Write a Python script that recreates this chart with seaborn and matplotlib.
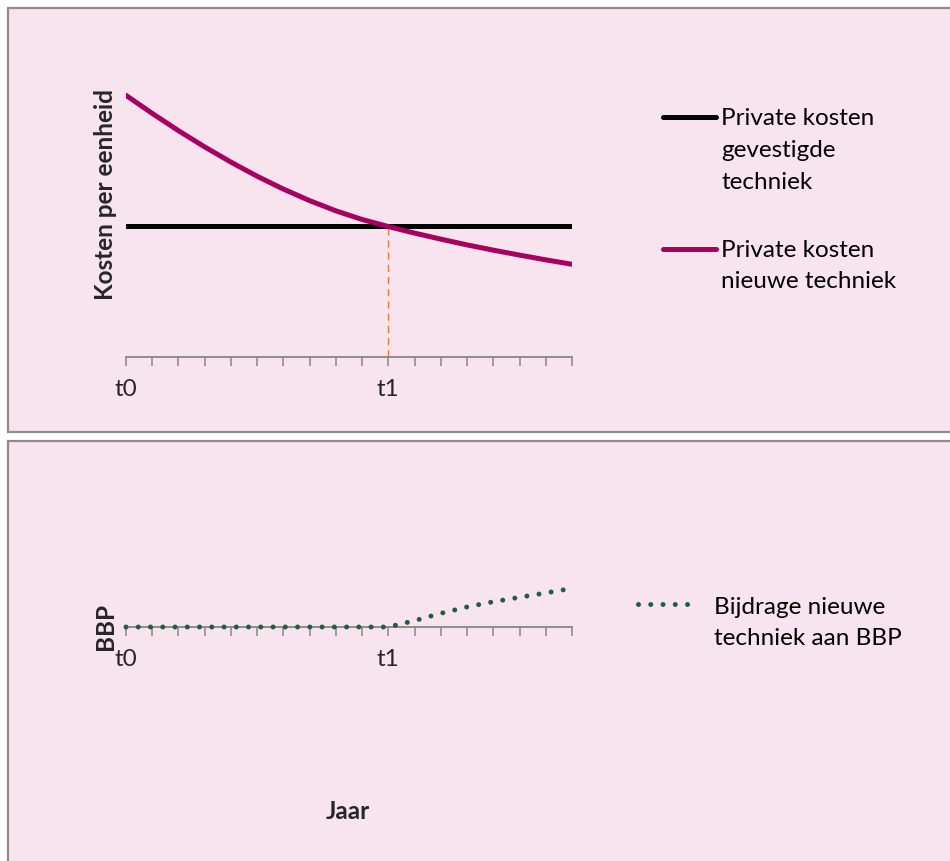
import numpy as np
import pandas as pd
import matplotlib
matplotlib.use("Agg")
import matplotlib.pyplot as plt
import seaborn as sns
from matplotlib.patches import Rectangle
from matplotlib.lines import Line2D

# categories on the time axis (only t0 and t1 carry a label)
tijd_labels = ['t0', '', '', '', '', '', '', '', '', '',
               't1', '', '', '', '', '', '', '']

# top panel: cost per unit
kosten_gevestigd = [50, 50, 50, 50, 50, 50, 50, 50, 50, 50,
                    50, 50, 50, 50, 50, 50, 50, 50]
kosten_nieuw = [99.9, 93.0, 86.4, 80.2, 74.4, 69.0, 64.1, 59.7, 55.8, 52.5,
                49.8, 47.3, 45.0, 42.8, 40.8, 38.9, 37.1, 35.4]

# bottom panel: contribution to GDP
bijdrage_bbp = [0, 0, 0, 0, 0, 0, 0, 0, 0, 0,
                0, 3.9, 8.4, 12.3, 15.5, 18.2, 20.9, 23.7]

legend_top = ["Private kosten\ngevestigde\ntechniek",
              "Private kosten\nnieuwe techniek"]
legend_bottom = "Bijdrage nieuwe\ntechniek aan BBP"

sns.set_style("white")
plt.rcParams['font.family'] = ['Lato', 'DejaVu Sans']

W, H = 950, 861
fig = plt.figure(figsize=(W / 100, H / 100), dpi=100)
fig.patch.set_facecolor('white')

bg = '#F7E4EF'
edge = '#8C8C8C'
# panel backgrounds (pixel -> figure fraction)
fig.patches.append(Rectangle((8 / W, (H - 432) / H), 1.0, 424 / H,
                             transform=fig.transFigure, facecolor=bg,
                             edgecolor=edge, lw=1.6, zorder=-10))
fig.patches.append(Rectangle((8 / W, -0.05), 1.0, (H - 441) / H + 0.05,
                             transform=fig.transFigure, facecolor=bg,
                             edgecolor=edge, lw=1.6, zorder=-10))

df = pd.DataFrame({
    'pos': np.arange(len(tijd_labels)),
    'label': tijd_labels,
    'gevestigd': kosten_gevestigd,
    'nieuw': kosten_nieuw,
    'bbp': bijdrage_bbp,
})

magenta = '#A8005F'
green = '#215E3C'
orange = '#ED7D31'
axis_grey = '#868686'
fs = 17.5
fs_title = 17.5


def style_axis(ax):
    ax.set_facecolor('none')
    for s in ['left', 'top', 'right']:
        ax.spines[s].set_visible(False)
    ax.spines['bottom'].set_color(axis_grey)
    ax.spines['bottom'].set_linewidth(1.3)
    ax.set_yticks([])
    ax.set_xticks(df['pos'])
    ax.set_xticklabels(df['label'])
    ax.tick_params(axis='x', bottom=True, direction='out', length=6.5,
                   width=1.1, color=axis_grey, pad=9.5, labelsize=fs)
    ax.set_xlim(0, len(tijd_labels) - 1)


# ---- top panel
ax1 = fig.add_axes([126 / W, (H - 357) / H, 446 / W, 324 / H])
t1_pos = tijd_labels.index('t1')
ax1.vlines(t1_pos, 0, kosten_gevestigd[t1_pos], color=orange, lw=1.0,
           linestyles=(0, (5.2, 3.6)), zorder=1)
sns.lineplot(data=df, x='pos', y='gevestigd', color='black', lw=3.6,
             ax=ax1, solid_capstyle='round', zorder=2)
sns.lineplot(data=df, x='pos', y='nieuw', color=magenta, lw=3.6,
             ax=ax1, solid_capstyle='round', solid_joinstyle='round',
             zorder=3)
style_axis(ax1)
ax1.set_ylim(0, 123.7)
ax1.set_xlabel('')
ax1.set_ylabel('Kosten per eenheid', fontsize=fs_title, fontweight='bold')
ax1.yaxis.set_label_coords(-0.02, 0.5)

# ---- bottom panel
ax2 = fig.add_axes([126 / W, (H - 790) / H, 446 / W, 326 / H])
dotted = (0, (0.001, 2.45))
sns.lineplot(data=df, x='pos', y='bbp', color=green, lw=3.6, ax=ax2,
             linestyle=dotted, dash_capstyle='round', zorder=5)
for ln in ax2.lines:
    ln.set_clip_on(False)
ax2.spines['bottom'].set_position(('data', 0))
style_axis(ax2)
ax2.set_ylim(-100, 100)
ax2.set_ylabel('BBP', fontsize=fs_title, fontweight='bold')
ax2.yaxis.set_label_coords(-0.02, 0.5)
ax2.set_xlabel('Jaar', fontsize=fs_title, fontweight='bold')
ax2.xaxis.set_label_coords(0.498, -0.03)

# ---- legends (handle aligned with first text line, as in the original)
def fy(py):
    return (H - py) / H


def legend_entry(x0, x1, y_handle, x_text, baselines, text, **line_kw):
    fig.add_artist(Line2D([x0 / W, x1 / W], [fy(y_handle)] * 2,
                          transform=fig.transFigure, **line_kw))
    for yb, line in zip(baselines, text.split('\n')):
        fig.text(x_text / W, fy(yb), line, fontsize=fs, va='baseline',
                 ha='left', color='black')


legend_entry(663, 716, 116.7, 721, [125, 156.7, 189], legend_top[0],
             color='black', lw=3.6, solid_capstyle='round')
legend_entry(663, 716, 248.7, 721, [256.7, 288.3], legend_top[1],
             color=magenta, lw=3.6, solid_capstyle='round')
legend_entry(638, 699, 604.3, 714, [614.3, 645], legend_bottom,
             color=green, lw=3.6, linestyle=(0, (0.001, 2.45)),
             dash_capstyle='round')

fig.savefig('out.png', dpi=100)
